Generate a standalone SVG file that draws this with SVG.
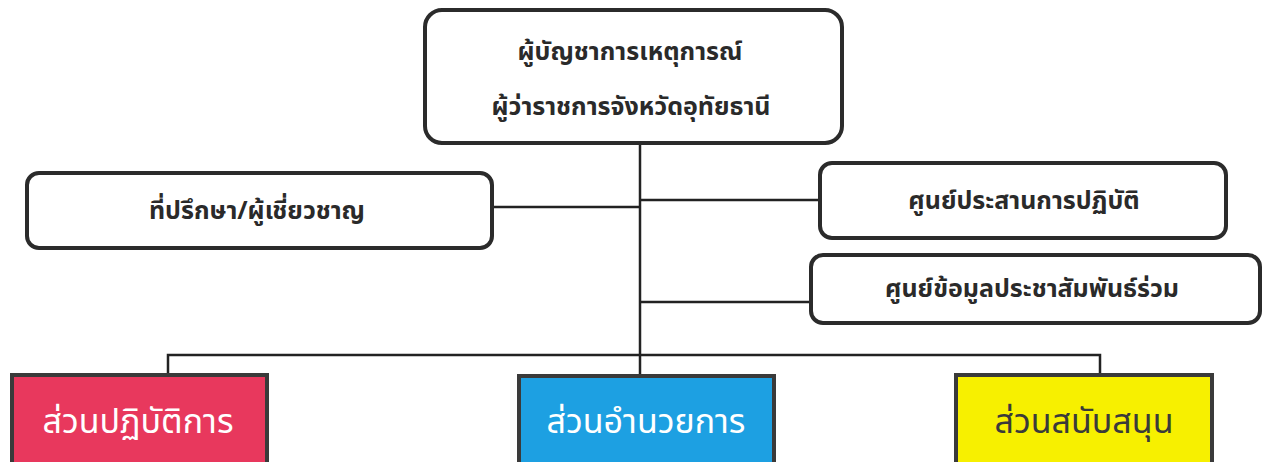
<svg xmlns="http://www.w3.org/2000/svg" width="1265" height="462" viewBox="0 0 1265 462">
<style>
.box{fill:#ffffff;stroke:#2b2b2b;stroke-width:4}
.sec{stroke:#3a3a3a;stroke-width:4}
.t{font-family:"Noto Sans Thai","Noto Sans","DejaVu Sans",sans-serif;font-weight:bold;font-size:25px;fill:#2a2a2a;text-anchor:middle}
.s{font-family:"Noto Sans Thai","Noto Sans","DejaVu Sans",sans-serif;font-size:34px;text-anchor:middle}
.c{fill:none;stroke:#222;stroke-width:2.5}
</style>
<rect width="1265" height="462" fill="#ffffff"/>
<g id="connectors">
<path class="c" d="M640 143 V355"/>
<path class="c" d="M492 207 H640"/>
<path class="c" d="M640 200 H820"/>
<path class="c" d="M640 302 H811"/>
<path class="c" d="M168 373 V355 H1100 V373"/>
<path class="c" d="M640 355 V375"/>
</g>
<g id="commander">
<rect class="box" x="425" y="10" width="417" height="133" rx="17"/>
<text class="t" x="630" y="60">ผู้บัญชาการเหตุการณ์</text>
<text class="t" x="631" y="115">ผู้ว่าราชการจังหวัดอุทัยธานี</text>
</g>
<g id="advisor">
<rect class="box" x="27" y="173" width="465" height="75" rx="12"/>
<text class="t" x="257" y="219">ที่ปรึกษา/ผู้เชี่ยวชาญ</text>
</g>
<g id="ops-center">
<rect class="box" x="820" y="163" width="406" height="75" rx="12"/>
<text class="t" x="1024" y="209">ศูนย์ประสานการปฏิบัติ</text>
</g>
<g id="pr-center">
<rect class="box" x="811" y="255" width="449" height="68" rx="12"/>
<text class="t" x="1032" y="297">ศูนย์ข้อมูลประชาสัมพันธ์ร่วม</text>
</g>
<g id="operations">
<rect class="sec" x="12" y="375" width="255" height="95" fill="#e8385d"/>
<text class="s" x="138" y="433" fill="#ffffff">ส่วนปฏิบัติการ</text>
</g>
<g id="facilitation">
<rect class="sec" x="519" y="376" width="255" height="95" fill="#1da0e2"/>
<text class="s" x="646" y="433" fill="#ffffff">ส่วนอำนวยการ</text>
</g>
<g id="support">
<rect class="sec" x="956" y="375" width="256" height="95" fill="#f7f000"/>
<text class="s" x="1084" y="433" fill="#3a3a3a">ส่วนสนับสนุน</text>
</g>
</svg>
